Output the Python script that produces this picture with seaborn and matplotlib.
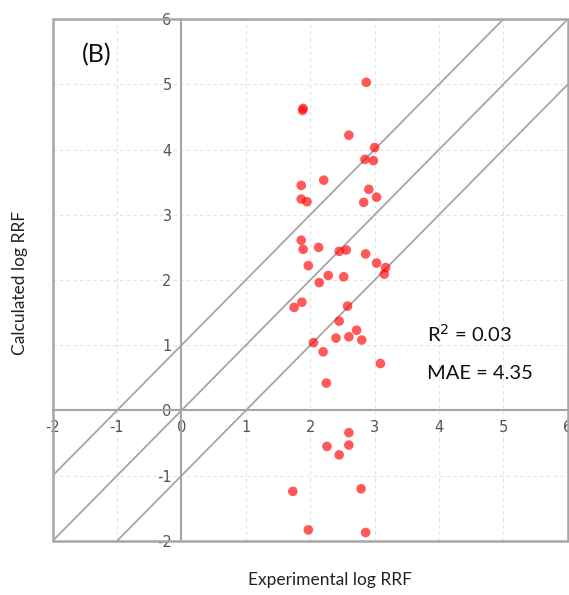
import matplotlib
matplotlib.use("Agg")
import matplotlib.pyplot as plt
from matplotlib.patches import Rectangle
import seaborn as sns
import pandas as pd

# ---- data ----
experimental = [2.87, 1.88, 1.89, 2.60, 3.00, 2.85, 2.98, 1.86, 2.21, 2.91, 3.03, 1.86, 1.95, 2.83,
                1.86, 1.89, 2.13, 2.45, 2.56, 2.86, 3.03, 3.17, 3.15, 1.97, 2.28, 2.52, 2.14, 1.87,
                1.75, 2.58, 2.45, 2.72, 2.40, 2.60, 2.80, 2.05, 2.20, 3.09, 2.25,
                2.60, 2.26, 2.60, 2.45, 1.73, 2.79, 1.97, 2.86]
calculated = [5.03, 4.60, 4.63, 4.22, 4.03, 3.85, 3.83, 3.45, 3.53, 3.39, 3.27, 3.24, 3.20, 3.19,
              2.61, 2.47, 2.50, 2.44, 2.46, 2.40, 2.26, 2.19, 2.09, 2.22, 2.07, 2.05, 1.96, 1.66,
              1.58, 1.60, 1.37, 1.23, 1.11, 1.13, 1.08, 1.04, 0.90, 0.72, 0.42,
              -0.34, -0.55, -0.53, -0.68, -1.24, -1.20, -1.83, -1.87]
ticks = [-2, -1, 0, 1, 2, 3, 4, 5, 6]
diagonal_offsets = [1, 0, -1]
annotations = ["R$^2$ = 0.03", "MAE = 4.35"]

df = pd.DataFrame({"Experimental log RRF": experimental, "Calculated log RRF": calculated})

sns.set_theme(style="white")
plt.rcParams['font.family'] = ['Lato', 'DejaVu Sans']

fig = plt.figure(figsize=(5.69, 5.95), dpi=100)
ax = fig.add_axes([0.0924, 0.0908, 0.9056, 0.8772])

gray = '#a6a6a6'

ax.set_xlim(-2, 6)
ax.set_ylim(-2, 6)
ax.set_xticks(ticks)
ax.set_yticks(ticks)
ax.set_xticklabels([str(t) for t in ticks])
ax.set_yticklabels([str(t) for t in ticks])

ax.grid(True, linestyle=(0, (3, 3)), color='#e3e3e3', linewidth=0.8)
ax.set_axisbelow(True)

for off in diagonal_offsets:
    ax.axline((0, off), slope=1, color=gray, linewidth=1.3, zorder=1)

sns.scatterplot(data=df, x="Experimental log RRF", y="Calculated log RRF", ax=ax,
                color='red', alpha=0.65, s=48, edgecolor='none', zorder=3)

ax.spines['left'].set_position(('data', 0))
ax.spines['bottom'].set_position(('data', 0))
for sp in ['left', 'bottom']:
    ax.spines[sp].set_color(gray)
    ax.spines[sp].set_linewidth(1.5)
for sp in ['top', 'right']:
    ax.spines[sp].set_visible(False)
ax.add_patch(Rectangle((0, 0), 1, 1, transform=ax.transAxes, fill=False,
                       edgecolor=gray, linewidth=1.8, clip_on=False, zorder=4))

ax.tick_params(axis='both', which='major', direction='out', length=4, width=1,
               color=gray, labelcolor='#555555', labelsize=10.5, pad=3)
for lab in ax.get_xticklabels() + ax.get_yticklabels():
    lab.set_family(['DejaVu Sans'])

ax.set_xlabel("")
ax.set_ylabel("")

fig.text(0.58, 1 - 580 / 595, "Experimental log RRF", ha='center', va='center',
         fontsize=12.5, color='#222222')
fig.text(20 / 569, 1 - 283 / 595, "Calculated log RRF", ha='center', va='center',
         rotation=90, fontsize=12.5, color='#222222')

ax.text(-1.31, 5.45, "(B)", ha='center', va='center', fontsize=18, color='#111111')
ax.text(3.82, 1.17, annotations[0], ha='left', va='center', fontsize=14.5, color='#111111')
ax.text(3.82, 0.57, annotations[1], ha='left', va='center', fontsize=14.5, color='#111111')

fig.savefig("out.png", dpi=100)
